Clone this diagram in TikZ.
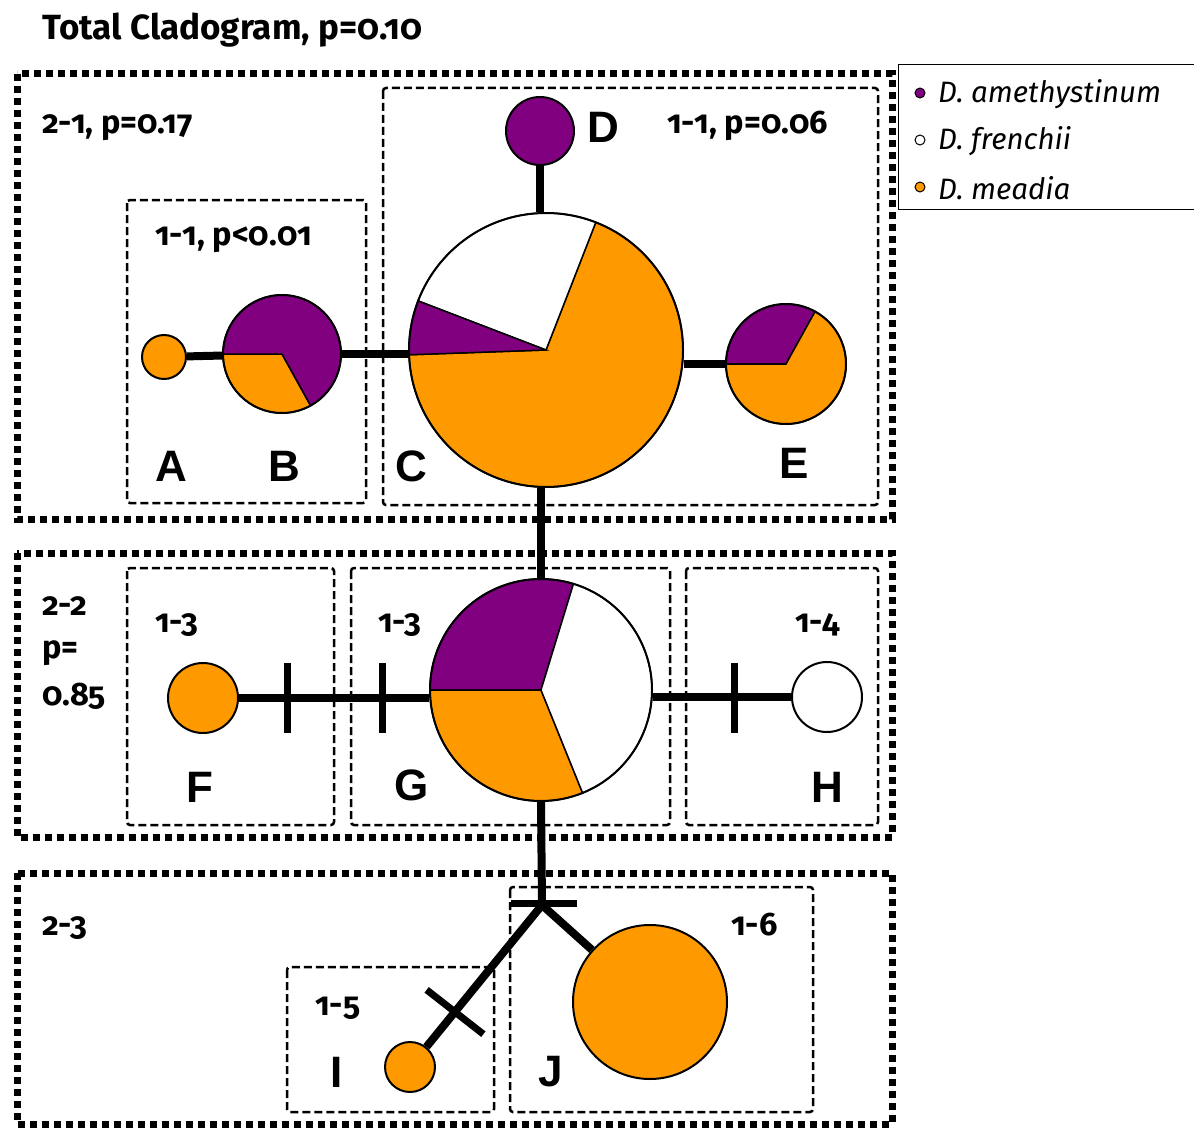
\documentclass[tikz,border=0pt]{standalone}
\usepackage{fontspec}
\setmainfont{Fira Sans}[Numbers=OldStyle]
\newfontfamily\letterfont{Liberation Sans}
\definecolor{pmauve}{RGB}{128,0,128}
\definecolor{porange}{RGB}{255,153,0}
\tikzset{
 outerbox/.style={line width=7pt, dash pattern=on 7pt off 5pt},
 innerbox/.style={line width=2.5pt, dash pattern=on 8pt off 4pt, rounded corners=3pt},
 pie/.style={circle, draw, line width=2pt, inner sep=0pt, minimum size=#1},
 link/.style={line width=8pt},
 tickmark/.style={fill=black, inner sep=0pt, minimum width=7pt, minimum height=70pt},
 lbl/.style={font=\fontsize{32.5}{34}\selectfont\bfseries, anchor=west, inner sep=0pt},
 letter/.style={font=\letterfont\fontsize{44}{44}\selectfont\bfseries, inner sep=0pt},
 legtxt/.style={font=\fontsize{29.5}{31}\selectfont\itshape, anchor=west, inner sep=0pt},
 legdot/.style={circle, draw, line width=1pt, inner sep=0pt, minimum size=10pt},
}
\newcommand\pieslice[5]{\filldraw[#1,draw=black,line width=1.5pt] (#2) -- ++(#3:#5) arc[start angle=#3,end angle=#4,radius=#5] -- cycle;}
\begin{document}
\begin{tikzpicture}[x=1pt,y=1pt]
\useasboundingbox (0,0) rectangle (1194,-1129);
% outer boxes
\draw[outerbox] (17,-74) rectangle (892,-519);
\draw[outerbox] (17,-553) rectangle (892,-837);
\draw[outerbox] (17,-873) rectangle (892,-1124);
% inner boxes
\draw[innerbox] (127,-200) rectangle (366,-503);
\draw[innerbox] (383,-88) rectangle (878,-505);
\draw[innerbox] (127,-568) rectangle (334,-825);
\draw[innerbox] (351,-568) rectangle (670,-825);
\draw[innerbox] (686,-568) rectangle (878,-825);
\draw[innerbox] (287,-967) rectangle (494,-1112);
\draw[innerbox] (510,-887) rectangle (813,-1112);
% legend
\draw[line width=1pt] (898,-65) rectangle (1200,-209);
\node[legdot, fill=pmauve] (l1) at (920,-93) {};
\node[legdot, fill=white] (l2) at (920,-140) {};
\node[legdot, fill=porange] (l3) at (920,-187) {};
\node[legtxt] (lt1) at (938,-94) {D. amethystinum};
\node[legtxt] (lt2) at (938,-141) {D. frenchii};
\node[legtxt] (lt3) at (938,-188) {D. meadia};
% pie centres
\coordinate (cB) at (282,-354);
\coordinate (cC) at (546,-350);
\coordinate (cE) at (786,-364);
\coordinate (cG) at (541,-690);
% pie slices
\pieslice{porange}{cB}{180}{299}{59}
\pieslice{pmauve}{cB}{299}{540}{59}
\pieslice{porange}{cC}{182}{428.7}{137}
\pieslice{white}{cC}{68.7}{159}{137}
\pieslice{pmauve}{cC}{159}{182}{137}
\pieslice{pmauve}{cE}{61}{180}{60}
\pieslice{porange}{cE}{180}{421}{60}
\pieslice{pmauve}{cG}{73}{180}{111}
\pieslice{porange}{cG}{180}{292}{111}
\pieslice{white}{cG}{292}{433}{111}
% pie nodes
\node[pie=44pt, fill=porange] (A) at (164,-357) {};
\node[pie=118pt] (B) at (cB) {};
\node[pie=274pt] (C) at (cC) {};
\node[pie=68pt, fill=pmauve] (D) at (540,-131) {};
\node[pie=120pt] (E) at (cE) {};
\node[pie=70pt, fill=porange] (F) at (203,-698) {};
\node[pie=222pt] (G) at (cG) {};
\node[pie=70pt, fill=white] (H) at (827,-697) {};
\node[pie=50pt, fill=porange] (I) at (410,-1067) {};
\node[pie=154pt, fill=porange] (J) at (650,-1002) {};
\coordinate (jn) at (542,-905);
% connectors
\draw[link] (A) -- (B);
\draw[link] (B) -- (B -| C.west);
\draw[link] (C.east |- E) -- (E);
\draw[link] (D) -- (D |- C.north);
\draw[link] (G.north |- C.south) -- (G.north);
\draw[link] (F) -- (F -| G.west);
\draw[link] (G.east |- H) -- (H);
\draw[link] (G.south) -- (jn);
\draw[link] (jn) -- (J);
\draw[link] (jn) -- (I);
% mutation ticks
\node[tickmark] (t1) at (287,-698) {};
\node[tickmark] (t2) at (382,-698) {};
\node[tickmark] (t3) at (734,-698) {};
\node[tickmark, minimum height=66pt, rotate=90] (t4) at (544,-903) {};
\node[tickmark, minimum height=72pt, rotate=52] (t5) at (455,-1012) {};
% labels
\node[lbl, font=\fontsize{35}{37}\selectfont\bfseries] (title) at (42,-30) {Total Cladogram, p=0.10};
\node[lbl] (g21) at (42,-128) {2-1, p=0.17};
\node[lbl] (g11a) at (155,-240) {1-1, p<0.01};
\node[lbl] (g11b) at (667,-126) {1-1, p=0.06};
\node[lbl] (g22a) at (42,-606) {2-2};
\node[lbl] (g22b) at (42,-653) {p=};
\node[lbl] (g22c) at (42,-696) {0.85};
\node[lbl] (g13a) at (155,-625) {1-3};
\node[lbl] (g13b) at (378,-625) {1-3};
\node[lbl] (g14) at (795,-625) {1-4};
\node[lbl] (g23) at (42,-928) {2-3};
\node[lbl] (g15) at (315,-1008) {1-5};
\node[lbl] (g16) at (731,-925) {1-6};
% haplotype letters
\node[letter] (LA) at (171,-466) {A};
\node[letter] (LB) at (284,-466) {B};
\node[letter] (LC) at (411,-466) {C};
\node[letter] (LD) at (603,-127) {D};
\node[letter] (LE) at (794,-463) {E};
\node[letter] (LF) at (200,-787) {F};
\node[letter] (LG) at (412,-785) {G};
\node[letter] (LH) at (827,-787) {H};
\node[letter] (LI) at (337,-1072) {I};
\node[letter] (LJ) at (551,-1072) {J};
\end{tikzpicture}
\end{document}
